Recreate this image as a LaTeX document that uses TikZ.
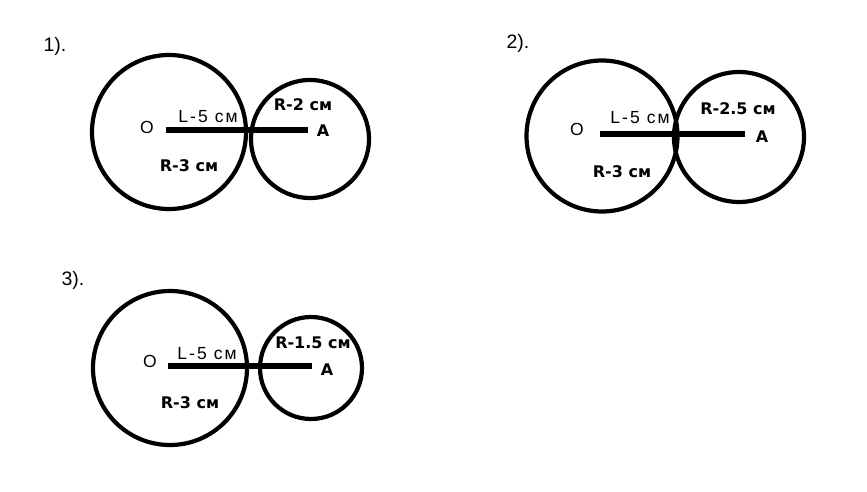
\documentclass[tikz,border=0pt]{standalone}
\usepackage{fontspec}
\setmainfont{Liberation Sans}
\newfontfamily\spaced[LetterSpace=12]{Liberation Sans}
\newfontfamily\boldfam{DejaVu Sans}
\begin{document}
\begin{tikzpicture}[x=1pt,y=-1pt,
  ring/.style={circle,draw,line width=4.2pt,inner sep=0pt,outer sep=0pt,minimum size=#1},
  seg/.style={line width=5.5pt},
  lab/.style={inner sep=0pt,font=\fontsize{17.5}{20}\selectfont\spaced},
  olab/.style={inner sep=0pt,font=\fontsize{17.5}{20}\selectfont},
  blab/.style={inner sep=0pt,font=\fontsize{16}{18}\selectfont\boldfam\bfseries},
  num/.style={inner sep=0pt,font=\fontsize{19.5}{22}\selectfont}]
\useasboundingbox (0,0) rectangle (867,492);
% figure 1
\node[num] (n1) at (55,46) {1).};
\node[ring=154pt] (b1) at (169,132) {};
\node[ring=118pt] (s1) at (310,139) {};
\coordinate (o1) at (166,130);
\coordinate (a1) at (308,130);
\draw[seg] (o1) -- (a1);
\node[olab] (O1) at (147,127) {O};
\node[lab] (L1) at (208,117) {L-5 см};
\node[blab] (R1) at (303,105) {R-2 см};
\node[blab] (A1) at (323,131) {A};
\node[blab] (C1) at (189,166) {R-3 см};
% figure 2
\node[num] (n2) at (518,43) {2).};
\node[ring=151pt] (b2) at (602,136) {};
\node[ring=130pt] (s2) at (739,137) {};
\coordinate (o2) at (600,134);
\coordinate (a2) at (745,134);
\draw[seg] (o2) -- (a2);
\node[olab] (O2) at (577,129) {O};
\node[lab] (L2) at (640,118) {L-5 см};
\node[blab] (R2) at (738,109) {R-2.5 см};
\node[blab] (A2) at (762,137) {A};
\node[blab] (C2) at (622,172) {R-3 см};
% figure 3
\node[num] (n3) at (73,280) {3).};
\node[ring=154pt] (b3) at (170,368) {};
\node[ring=102pt] (s3) at (311,368) {};
\coordinate (o3) at (168,366);
\coordinate (a3) at (312,366);
\draw[seg] (o3) -- (a3);
\node[olab] (O3) at (150,361) {O};
\node[lab] (L3) at (207,354) {L-5 см};
\node[blab] (R3) at (313,343) {R-1.5 см};
\node[blab] (A3) at (327,370) {A};
\node[blab] (C3) at (190,403) {R-3 см};
\end{tikzpicture}
\end{document}
